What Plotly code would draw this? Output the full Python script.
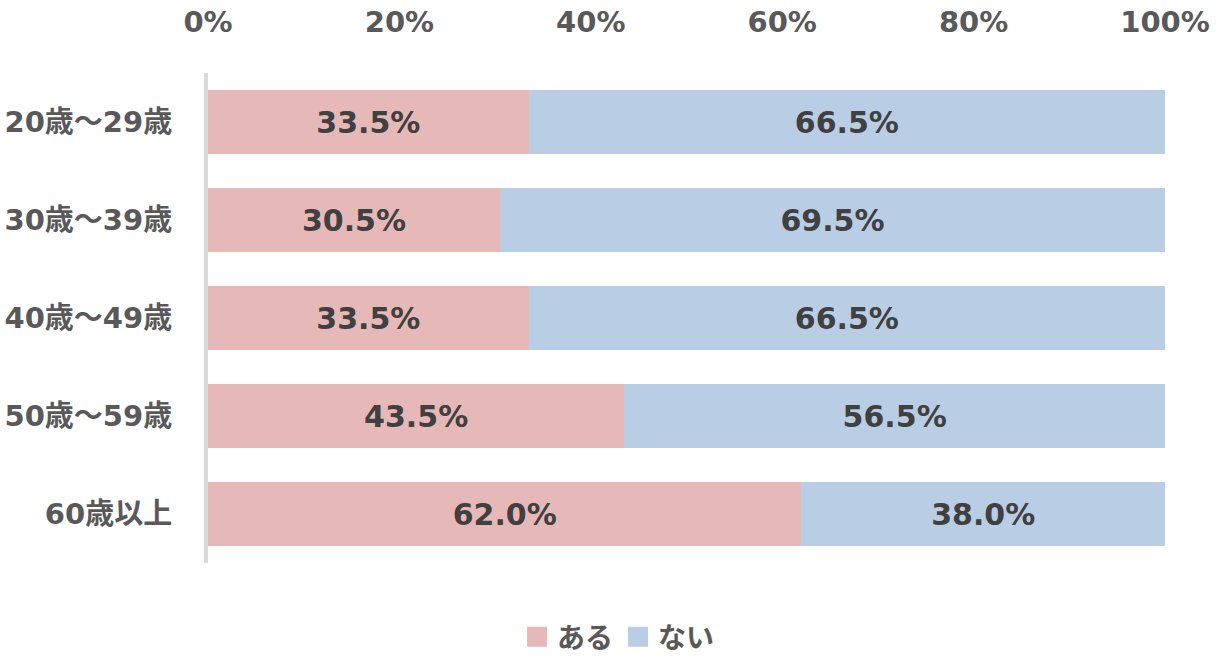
import plotly.graph_objects as go

categories = ["20歳～29歳", "30歳～39歳", "40歳～49歳", "50歳～59歳", "60歳以上"]
aru = [33.5, 30.5, 33.5, 43.5, 62.0]
nai = [66.5, 69.5, 66.5, 56.5, 38.0]
x_ticks = [0, 20, 40, 60, 80, 100]
x_labels = ["0%", "20%", "40%", "60%", "80%", "100%"]

FONT = "DejaVu Sans, Noto Sans CJK JP"
TEXT = "#404040"
GREY = "#595959"
PINK = "#E6B9B8"
BLUE = "#B9CDE5"

fig = go.Figure()
for name, vals, col in [("ある", aru, PINK), ("ない", nai, BLUE)]:
    fig.add_trace(go.Bar(
        y=categories, x=vals, name=name, orientation="h", showlegend=False,
        marker=dict(color=col, line=dict(width=0)),
        texttemplate="%{x:.1f}%", textposition="inside", insidetextanchor="middle",
        textfont=dict(family=FONT, size=30, color=TEXT, weight="bold"),
        hoverinfo="skip",
    ))
    # legend swatch as square marker
    fig.add_trace(go.Scatter(
        x=[None], y=[None], name=name, mode="markers",
        marker=dict(symbol="square", size=16, color=col, line=dict(color=col, width=4)),
    ))

fig.update_layout(
    barmode="stack",
    bargap=0.34,
    width=1218, height=664,
    margin=dict(l=208, r=53, t=73, b=101, autoexpand=False),
    plot_bgcolor="white", paper_bgcolor="white",
    font=dict(family=FONT, color=GREY),
    uniformtext=dict(mode="show", minsize=10),
    legend=dict(orientation="h", x=0.429, xanchor="center", y=-0.10, yanchor="top",
                traceorder="normal",
                font=dict(family=FONT, size=28, color=GREY, weight="bold"),
                itemwidth=30, tracegroupgap=0),
    xaxis=dict(side="top", range=[0, 100], tickvals=x_ticks, ticktext=x_labels,
               showgrid=False, zeroline=False, showline=False, automargin=False,
               tickfont=dict(family=FONT, size=29, color=GREY, weight="bold"),
               ticklen=0, ticklabelstandoff=34),
    yaxis=dict(autorange="reversed", showgrid=False, zeroline=False, automargin=False,
               showline=True, linecolor="#D9D9D9", linewidth=4,
               tickfont=dict(family=FONT, size=29, color=GREY, weight="bold"), ticklen=0,
               ticklabelstandoff=26),
)

# drop the default 8px body margin so the figure sits at the page corner
fig.write_html("out.html", config={"displayModeBar": False},
               post_script="document.body.style.margin='0';")
